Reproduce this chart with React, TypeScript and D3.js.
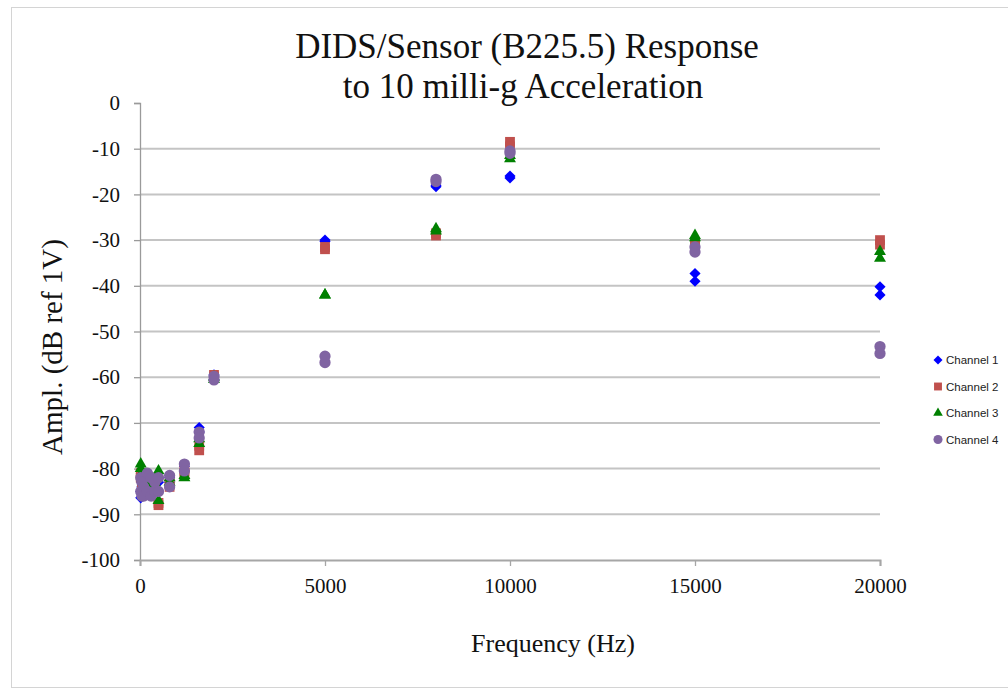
import { useCallback, useEffect, useRef } from 'react';

import {
  axisBottom,
  axisLeft,
  scaleLinear,
  select,
  symbol,
  symbolCircle,
  symbolSquare,
  symbolTriangle,
} from 'd3';

// measured frequencies (Hz), two readings per channel at each one
const frequencies = [
  20, 50, 100, 200, 300, 400, 500, 800, 1200, 1600, 2000, 5000, 8000, 10000,
  15000, 20000,
];

const channel1: [number, number][] = [
  [-86.4, -85], [-84, -83], [-83, -82], [-82.5, -83.5], [-83, -84],
  [-84, -82], [-82, -83], [-82, -83], [-79.5, -80.5], [-71, -72],
  [-59.5, -60.5], [-30, -30.3], [-18, -18.3], [-16, -16.4], [-37.3, -39],
  [-40.2, -42],
];

const channel2: [number, number][] = [
  [-81, -82], [-82, -83.5], [-83, -84], [-84, -85], [-82, -83],
  [-84, -85], [-87.5, -88], [-83, -84], [-80.5, -81], [-75, -76],
  [-59.5, -60], [-31.5, -32], [-28.5, -29], [-8.5, -9.5], [-30.5, -31],
  [-30, -31],
];

const channel3: [number, number][] = [
  [-79, -80], [-81, -82], [-82, -83], [-83, -84], [-82, -84],
  [-83, -85], [-80.5, -87], [-82, -83], [-81.5, -82], [-73.5, -74.5],
  [-60, -60.5], [-42, -42], [-27.5, -28], [-11.5, -12.2], [-29, -29.5],
  [-32.5, -34],
];

const channel4: [number, number][] = [
  [-82, -85], [-83, -86], [-84, -86], [-81, -85], [-82, -86],
  [-83, -85], [-82, -85], [-81.5, -84], [-79, -80.5], [-72, -73.3],
  [-59.8, -60.6], [-55.4, -56.8], [-16.7, -17.2], [-10.5, -11], [-31.5, -32.6],
  [-53.3, -54.8],
];

const seriesNames = ['Channel 1', 'Channel 2', 'Channel 3', 'Channel 4'];
const xTicks = [0, 5000, 10000, 15000, 20000];
const yTicks = [0, -10, -20, -30, -40, -50, -60, -70, -80, -90, -100];

const serif = '"Liberation Serif", "Times New Roman", serif';

export default function App() {
  const containerRef = useRef<HTMLDivElement>(null);

  const initChart = useCallback(() => {
    const container = containerRef.current;
    if (!container) return;

    const width = 1008,
      height = 692;
    const plot = { left: 140, right: 880, top: 103, bottom: 560 };

    const div = select(container);
    div.select('svg').remove();

    const svg = div
      .append('svg')
      .attr('width', width)
      .attr('height', height)
      .style('display', 'block');

    svg
      .append('rect')
      .attr('width', width)
      .attr('height', height)
      .attr('fill', '#fff');

    // outer frame
    svg
      .append('rect')
      .attr('x', 11.5)
      .attr('y', 7.5)
      .attr('width', 1010)
      .attr('height', 680)
      .attr('fill', 'none')
      .attr('stroke', '#d4d4d4');

    const x = scaleLinear().domain([0, 20000]).range([plot.left, plot.right]);
    const y = scaleLinear().domain([-100, 0]).range([plot.bottom, plot.top]);

    // gridlines
    svg
      .append('g')
      .attr('class', 'grid')
      .selectAll('line')
      .data(yTicks.filter((t) => t !== 0 && t !== -100))
      .join('line')
      .attr('x1', plot.left)
      .attr('x2', plot.right)
      .attr('y1', (d) => y(d))
      .attr('y2', (d) => y(d))
      .attr('stroke', '#c4c4c4')
      .attr('stroke-width', 2);

    // Y axis (plain hyphen minus, as in the original)
    svg
      .append('g')
      .attr('transform', `translate(${plot.left},0)`)
      .call(
        axisLeft(y)
          .tickValues(yTicks)
          .tickFormat((d) => String(d))
          .tickSize(6)
          .tickPadding(14),
      )
      .call((g) => {
        g.selectAll('path, line').attr('stroke', '#9a9a9a').attr('stroke-width', 1.3);
        g.selectAll('text')
          .attr('font-family', serif)
          .attr('font-size', 21)
          .attr('fill', '#111');
      });

    // X axis
    svg
      .append('g')
      .attr('transform', `translate(0,${plot.bottom})`)
      .call(
        axisBottom(x)
          .tickValues(xTicks)
          .tickFormat((d) => String(d))
          .tickSize(6)
          .tickPadding(12),
      )
      .call((g) => {
        g.select('path').attr('stroke', '#a6a6a6').attr('stroke-width', 2);
        g.selectAll('line').attr('stroke', '#a6a6a6').attr('stroke-width', 1.3);
        g.selectAll('text')
          .attr('font-family', serif)
          .attr('font-size', 21)
          .attr('fill', '#111');
      });

    // titles
    const title = svg
      .append('text')
      .attr('text-anchor', 'middle')
      .attr('font-family', serif)
      .attr('font-size', 35)
      .attr('fill', '#111');
    title.append('tspan').attr('x', 527).attr('y', 58).text('DIDS/Sensor (B225.5) Response');
    title.append('tspan').attr('x', 523).attr('y', 98).text('to 10 milli-g Acceleration');

    svg
      .append('text')
      .attr('x', 553)
      .attr('y', 652)
      .attr('text-anchor', 'middle')
      .attr('font-family', serif)
      .attr('font-size', 26)
      .attr('fill', '#111')
      .text('Frequency (Hz)');

    svg
      .append('text')
      .attr('transform', 'translate(62,347) rotate(-90)')
      .attr('text-anchor', 'middle')
      .attr('font-family', serif)
      .attr('font-size', 29)
      .attr('fill', '#111')
      .text('Ampl. (dB ref 1V)');

    // series
    const series = [
      { name: seriesNames[0], values: channel1, color: '#0000ff', shape: symbolSquare, size: 62, rotate: 45 },
      { name: seriesNames[1], values: channel2, color: '#c0504d', shape: symbolSquare, size: 96, rotate: 0 },
      { name: seriesNames[2], values: channel3, color: '#008000', shape: symbolTriangle, size: 62, rotate: 0 },
      { name: seriesNames[3], values: channel4, color: '#8064a2', shape: symbolCircle, size: 100, rotate: 0 },
    ];

    const marks = svg.append('g').attr('class', 'marks');
    series.forEach((s) => {
      const points = frequencies.flatMap((f, i) =>
        s.values[i].map((v) => ({ f, v })),
      );
      marks
        .append('g')
        .selectAll('path')
        .data(points)
        .join('path')
        .attr('d', symbol(s.shape, s.size)())
        .attr('transform', (d) => `translate(${x(d.f)},${y(d.v)}) rotate(${s.rotate})`)
        .attr('fill', s.color);
    });

    // legend
    const legend = svg.append('g').attr('class', 'legend');
    series.forEach((s, i) => {
      const ly = 360 + i * 26.5;
      legend
        .append('path')
        .attr('d', symbol(s.shape, s.size * 0.65)())
        .attr('transform', `translate(938,${ly}) rotate(${s.rotate})`)
        .attr('fill', s.color);
      legend
        .append('text')
        .attr('x', 946)
        .attr('y', ly + 4)
        .attr('font-family', '"Liberation Sans", Arial, sans-serif')
        .attr('font-size', 11.5)
        .attr('fill', '#222')
        .text(s.name);
    });
  }, []);

  const destroyChart = useCallback(() => {
    const container = containerRef.current;
    if (!container) return;

    select(container).select('svg').remove();
  }, []);

  useEffect(() => {
    initChart();
    return destroyChart;
  }, [destroyChart, initChart]);

  return (
    <div
      ref={containerRef}
      style={{ position: 'absolute', left: 0, top: 0, background: '#fff' }}
    />
  );
}
